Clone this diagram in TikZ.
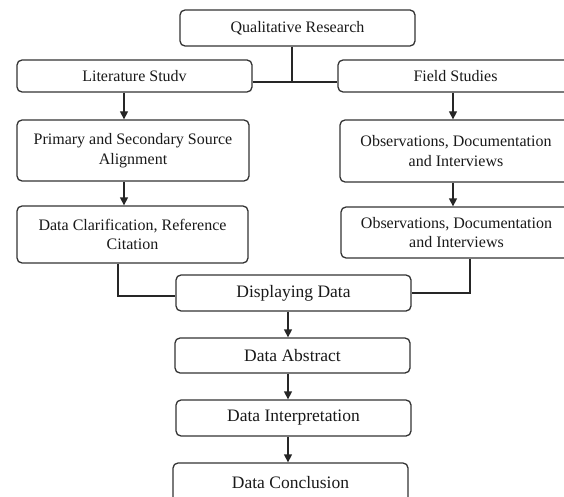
\documentclass[tikz,border=0pt]{standalone}
\usepackage{fontspec}
\setmainfont{Liberation Serif}
\usetikzlibrary{arrows.meta}

\begin{document}
\begin{tikzpicture}[x=1pt,y=-1pt,
  box/.style={draw=black!80, line width=1.3pt, rounded corners=5pt, align=center,
    inner sep=0pt, text=black!90, minimum width=235pt, minimum height=36pt,
    font=\fontsize{16}{19.5}\selectfont},
  big/.style={font=\fontsize{17.5}{20}\selectfont},
  arr/.style={-{Triangle[width=8pt,length=8pt]}, line width=1.3pt, draw=black!85},
  line/.style={line width=1.3pt, draw=black!85}]
  \useasboundingbox (0,0) rectangle (564,497);

  % top and the two branches
  \node[box] (qual) at (297.5,28) {Qualitative Research};
  \node[box, minimum height=32pt] (lit) at (134.5,76) {Literature Studv};
  \node[box, minimum height=32pt] (field) at (455.5,76) {Field Studies};
  \coordinate (j) at (292,82);
  \draw[line] (qual.south -| j) -- (j);
  \draw[line] (lit.east |- j) -- (field.west |- j);

  % left column
  \node[box, minimum width=232pt, minimum height=61pt] (prim) at (133,150.5) {Primary and Secondary Source\\Alignment};
  \node[box, minimum width=231pt, minimum height=57pt] (clar) at (132.5,234.5) {Data Clarification, Reference\\Citation};
  \draw[arr] ([xshift=-10.5pt]lit.south) -- ([xshift=-10.5pt]lit.south |- prim.north);
  \draw[arr] ([xshift=-9pt]prim.south) -- ([xshift=-9pt]prim.south |- clar.north);

  % right column
  \node[box, minimum width=232pt, minimum height=62pt] (obs1) at (456,151) {Observations, Documentation\\and Interviews};
  \node[box, minimum width=231pt, minimum height=51pt] (obs2) at (456.5,232.5) {Observations, Documentation\\and Interviews};
  \draw[arr] ([xshift=-2.5pt]field.south) -- ([xshift=-2.5pt]field.south |- obs1.north);
  \draw[arr] ([xshift=-3pt]obs1.south) -- ([xshift=-3pt]obs1.south |- obs2.north);

  % merge and the chain below
  \node[box, big] (disp) at (293.5,293) {Displaying Data};
  \node[box, big, minimum height=35pt] (abst) at (292.5,355.5) {Data Abstract};
  \node[box, big] (interp) at (293.5,418) {Data Interpretation};
  \node[box, big, minimum height=40pt] (concl) at (290.5,483) {Data Conclusion};
  \draw[line] ([xshift=-14.5pt]clar.south) |- ([yshift=-3pt]disp.west);
  \draw[line] ([xshift=13.5pt]obs2.south) |- (disp.east);
  \draw[arr] ([xshift=-5.5pt]disp.south) -- ([xshift=-5.5pt]disp.south |- abst.north);
  \draw[arr] ([xshift=-4.5pt]abst.south) -- ([xshift=-4.5pt]abst.south |- interp.north);
  \draw[arr] ([xshift=-5.5pt]interp.south) -- ([xshift=-5.5pt]interp.south |- concl.north);
\end{tikzpicture}
\end{document}
